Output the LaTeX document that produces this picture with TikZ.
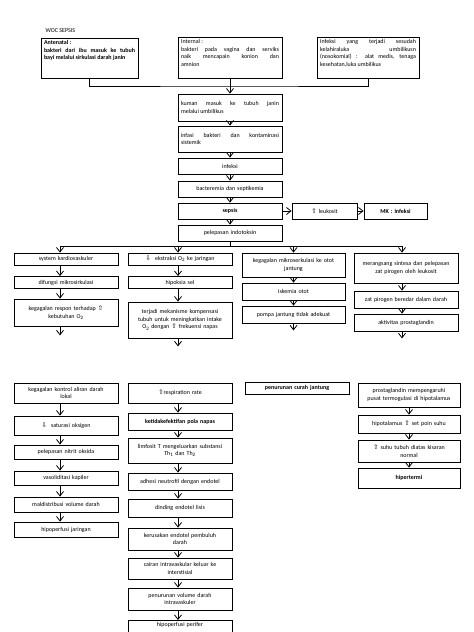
\documentclass[tikz,border=0pt]{standalone}
\usepackage{fontspec}
\setmainfont{Carlito}
\newfontfamily\symfont{DejaVu Sans}
\usetikzlibrary{arrows.meta, positioning}
\newcommand{\naik}{{\symfont\fontsize{6.5}{6}\selectfont ⇧}}
\newcommand{\turun}{{\symfont\fontsize{6.5}{6}\selectfont ⇩}}

\begin{document}
\begin{tikzpicture}[x=1pt, y=-1pt, font=\fontsize{6}{7.5}\selectfont,
		box/.style={draw, line width=0.8pt, inner sep=1.5pt, align=center, minimum width=104pt, text width=98pt},
		arr/.style={-{Straight Barb[length=4.5pt,width=7pt,line width=0.8pt]}, line width=0.6pt}]
			\useasboundingbox (0,0) rectangle (474,632);
			\node[anchor=west] (judul) at (42,31) {WOC SEPSIS};

			% sumber infeksi
			\node[box, align=justify, minimum width=97pt, text width=91pt, minimum height=40pt, anchor=north] (ante) at (89.5,38)
			{\parbox[c][36pt][t]{91pt}{\bfseries Antenatal :\\ bakteri dari ibu masuk ke tubuh\linebreak bayi melalui sirkulasi darah janin}};
			\node[box, align=justify, minimum height=41pt, anchor=north] (intl) at (230,37)
			{\parbox[c][37pt][t]{98pt}{Internal :\\ bakteri pada vagina dan serviks\linebreak naik mencapain konion dan\linebreak amnion}};
			\node[box, align=justify, minimum width=102pt, text width=96pt, minimum height=41pt, anchor=north] (pasca) at (368,37)
			{\parbox[c][37pt][t]{96pt}{Infeksi yang terjadi sesudah\linebreak kelahiraluka umbilikusn\linebreak (nosokomial) : alat medis, tenaga\linebreak kesehatan,luka umbilikus}};
			\coordinate (gabung) at (230,86);
			\draw[line width=0.6pt] (ante.south) |- (gabung) -| (pasca.south);

			% jalur tengah
			\node[box, align=justify, minimum height=27pt] (kuman) at (230,107.5) {kuman masuk ke tubuh janin\linebreak melalui umbilikus};
			\node[box, align=justify, minimum height=26pt] (infasi) at (230,139) {infasi bakteri dan kontaminasi\linebreak sistemik};
			\node[box, minimum height=16pt] (infeksi) at (230,166) {infeksi};
			\node[box, minimum height=16pt] (bakt) at (230,189) {bacteremia dan septikemia};
			\node[box, minimum height=16pt] (sepsis) at (230,211) {\textbf{sepsis}};
			\node[box, minimum width=65pt, text width=59pt, minimum height=16pt] (leuko) at (324.5,211) {\naik\ leukosit};
			\node[box, minimum width=63pt, text width=57pt, minimum height=16pt] (mk) at (395.5,211) {\textbf{MK : infeksi}};
			\node[box, minimum height=16pt] (pel) at (230,233) {pelepasan indotoksin};
			\draw[arr] (intl.south) -- (kuman.north);
			\draw[arr] (kuman) -- (infasi);
			\draw[arr] (infasi) -- (infeksi);
			\draw[arr] (infeksi) -- (bakt);
			\draw[arr] (bakt) -- (sepsis);
			\draw[arr] (sepsis) -- (leuko);
			\draw[arr] (leuko) -- (mk);
			\draw[arr] (sepsis) -- (pel);

			% empat cabang
			\node[box, minimum height=12pt] (a1) at (66,259) {system kardiovaskuler};
			\node[box, minimum height=12pt] (a2) at (66,282.5) {difungsi mikrosirkulasi};
			\node[box, minimum height=27pt] (a3) at (66,312.5) {kegagalan respon terhadap \naik\\ kebutuhan O\textsubscript{2}};
			\node[box, minimum height=12pt] (b1) at (180,259) {\turun\ \ ekstraksi O\textsubscript{2} ke jaringan};
			\node[box, minimum height=12pt] (b2) at (180,282.5) {hipoksia sel};
			\node[box, minimum height=36pt] (b3) at (180,320) {terjadi mekanisme kompensasi\\ tubuh untuk meningkatkan intake\\ O\textsubscript{2} dengan \naik\ frekuensi napas};
			\node[box, minimum width=103pt, minimum height=24pt] (c1) at (293.5,265) {kegagalan mikroserkulasi ke otot\\ jantung};
			\node[box, minimum width=103pt, minimum height=17pt] (c2) at (293.5,291.5) {iskemia otot};
			\node[box, minimum width=103pt, minimum height=17pt] (c3) at (293.5,314.5) {pompa jantung tidak adekuat};
			\node[box, minimum height=30pt] (d1) at (406,268) {merangsang sintesa dan pelepasan\\ zat pirogen oleh leukosit};
			\node[box, minimum height=17pt] (d2) at (406,299.5) {zat pirogen beredar dalam darah};
			\node[box, minimum height=17pt] (d3) at (406,322.5) {aktivitas prostaglandin};
			\coordinate (cabang) at (230,246);
			\draw[line width=0.6pt] (pel.south) -- (cabang);
			\draw[arr] (cabang) -| ([xshift=-6pt]a1.north);
			\draw[arr] (cabang) -| ([xshift=-2pt]b1.north);
			\draw[arr] (cabang) -| (c1.north);
			\draw[arr] (cabang) -| ([xshift=-4pt]d1.north);
			\draw[arr] ([xshift=-6pt]a1.south) -- ([xshift=-6pt]a2.north);
			\draw[arr] ([xshift=-6pt]a2.south) -- ([xshift=-6pt]a3.north);
			\draw[arr] ([xshift=-6pt]a3.south) -- ++(0,9);
			\draw[arr] ([xshift=-2pt]b1.south) -- ([xshift=-2pt]b2.north);
			\draw[arr] ([xshift=-2pt]b2.south) -- ([xshift=-2pt]b3.north);
			\draw[arr] ([xshift=-2pt]b3.south) -- ++(0,8);
			\draw[arr] (c1) -- (c2);
			\draw[arr] (c2) -- (c3);
			\draw[arr] (c3.south) -- ++(0,7);
			\draw[arr] ([xshift=-4pt]d1.south) -- ([xshift=-4pt]d2.north);
			\draw[arr] ([xshift=-4pt]d2.south) -- ([xshift=-4pt]d3.north);
			\draw[arr] ([xshift=-4pt]d3.south) -- ++(0,7);

			% halaman kedua
			\node[box, minimum height=20pt] (e1) at (66,393) {kegagalan kontrol aliran darah\\ lokal};
			\node[box, minimum height=19pt] (e2) at (66,425.5) {\turun\ \ saturasi oksigen};
			\node[box, minimum height=14pt] (e3) at (66,452) {pelepasan nitrit oksida};
			\node[box, minimum height=14pt] (e4) at (66,478) {vasoliditasi kapiler};
			\node[box, minimum height=15pt] (e5) at (66,504.5) {maldistribusi volume darah};
			\node[box, minimum height=15pt] (e6) at (66,529.5) {hipoperfusi jaringan};
			\draw[arr] ([xshift=-6pt]e1.south) -- ([xshift=-6pt]e2.north);
			\draw[arr] ([xshift=-6pt]e2.south) -- ([xshift=-6pt]e3.north);
			\draw[arr] ([xshift=-6pt]e3.south) -- ([xshift=-6pt]e4.north);
			\draw[arr] ([xshift=-6pt]e4.south) -- ([xshift=-6pt]e5.north);
			\draw[arr] ([xshift=-6pt]e5.south) -- ([xshift=-6pt]e6.north);

			\node[box, minimum height=20pt] (f1) at (180,393) {\naik respiration rate};
			\node[box, minimum height=17pt] (f2) at (180,421.5) {\textbf{ketidakefektifan pola napas}};
			\node[box, minimum height=25pt] (f3) at (180,450.5) {limfosit T mengeluarkan substansi\\ Th\textsubscript{1} dan Th\textsubscript{2}};
			\node[box, minimum height=17pt] (f4) at (180,481.5) {adhesi neutrofil dengan endotel};
			\node[box, minimum height=18pt] (f5) at (180,508) {dinding endotel lisis};
			\node[box, minimum height=22pt] (f6) at (180,539) {kerusakan endotel pembuluh\\ darah};
			\node[box, minimum height=21pt] (f7) at (180,568.5) {cairan intravaskular keluar ke\\ interstisial};
			\node[box, minimum height=22pt] (f8) at (180,599) {penurunan volume darah\\ intravaskuler};
			\node[box, anchor=north, text depth=16pt] (f9) at (180,620) {hipoperfusi perifer};
			\draw[arr] ([xshift=-2pt]f1.south) -- ([xshift=-2pt]f2.north);
			\draw[arr] ([xshift=-2pt]f2.south) -- ([xshift=-2pt]f3.north);
			\draw[arr] ([xshift=-2pt]f3.south) -- ([xshift=-2pt]f4.north);
			\draw[arr] ([xshift=-2pt]f4.south) -- ([xshift=-2pt]f5.north);
			\draw[arr] ([xshift=-2pt]f5.south) -- ([xshift=-2pt]f6.north);
			\draw[arr] ([xshift=-2pt]f6.south) -- ([xshift=-2pt]f7.north);
			\draw[arr] ([xshift=-2pt]f7.south) -- ([xshift=-2pt]f8.north);
			\draw[arr] ([xshift=-2pt]f8.south) -- ([xshift=-2pt]f9.north);

			\node[box, minimum height=12pt] (g1) at (297,388) {\textbf{penurunan curah jantung}};

			\node[box, minimum width=102pt, text width=96pt, minimum height=24pt] (h1) at (409,395) {prostaglandin mempengaruhi\\ pusat termogulasi di hipotalamus};
			\node[box, minimum width=102pt, text width=96pt, minimum height=18pt] (h2) at (409,424) {hipotalamus \naik\ set poin suhu};
			\node[box, minimum width=102pt, text width=96pt, minimum height=22pt] (h3) at (409,451) {\naik\ suhu tubuh diatas kisaran\\ normal};
			\node[box, minimum width=102pt, text width=96pt, minimum height=20pt] (h4) at (409,478) {\textbf{hipertermi}};
			\draw[arr] (h1) -- (h2);
			\draw[arr] (h2) -- (h3);
			\draw[arr] (h3) -- (h4);
		\end{tikzpicture}
\end{document}
